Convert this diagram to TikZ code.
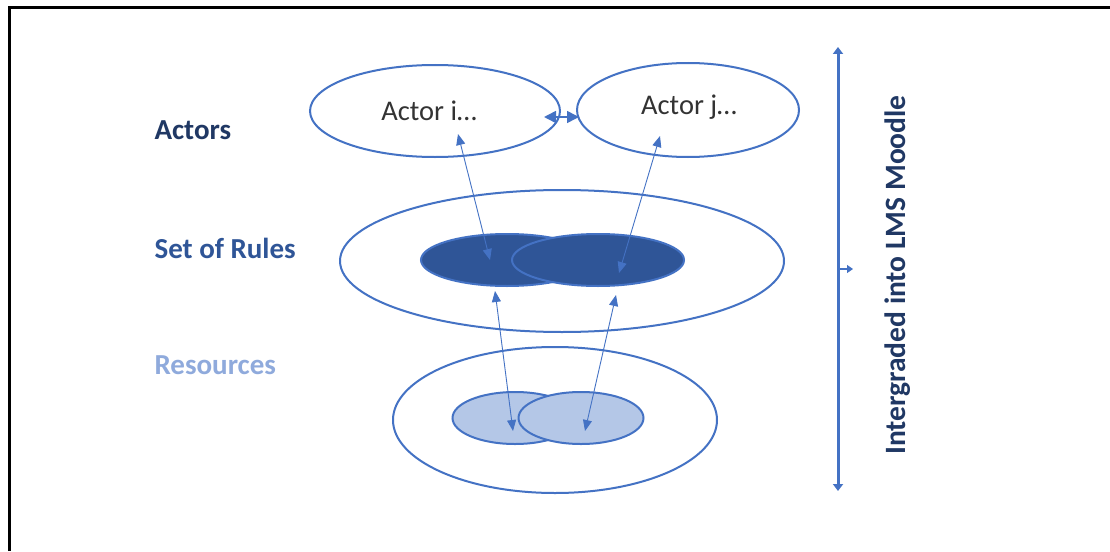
\documentclass[tikz,border=0pt]{standalone}
\usepackage{fontspec}
\setmainfont{Carlito}
\usetikzlibrary{shapes.geometric,arrows.meta}
\definecolor{edgeblue}{HTML}{4472C4}
\definecolor{rulefill}{HTML}{2F5597}
\definecolor{resfill}{HTML}{B4C7E7}
\definecolor{navy}{HTML}{203864}
\definecolor{lightlabel}{HTML}{8FAADC}
\begin{document}
\begin{tikzpicture}[x=1pt,y=-1pt,
  oval/.style={ellipse, draw=edgeblue, line width=2pt, inner sep=0pt},
  link/.style={draw=edgeblue, line width=0.9pt, {Triangle[length=11pt,width=9pt]}-{Triangle[length=11pt,width=9pt]}},
  rowlabel/.style={anchor=west, font=\bfseries\fontsize{29}{34}\selectfont},
  actortext/.style={font=\fontsize{28.5}{33}\selectfont, text=black!80}]
\useasboundingbox (0,0) rectangle (1110,551);
\fill[white] (0,0) rectangle (1110,551);
% frame
\draw[line width=3pt] (9,551) -- (9,8) -- (1110,8);

% row labels
\node[rowlabel, text=navy] (lblact) at (151,130) {Actors};
\node[rowlabel, text=rulefill] (lblrul) at (151,248) {Set of Rules};
\node[rowlabel, text=lightlabel] (lblres) at (151,365) {Resources};

% actors
\node[oval, fill=white, minimum width=250pt, minimum height=92pt] (ai) at (435,111) {};
\node[actortext] at (429,111) {Actor i…};
\node[oval, fill=white, minimum width=222pt, minimum height=94pt] (aj) at (688,110) {};
\node[actortext] at (689,107) {Actor j…};

% set of rules
\node[oval, fill=white, minimum width=444pt, minimum height=142pt] (rules) at (562,261) {};
\node[oval, fill=rulefill, minimum width=172pt, minimum height=52pt] (rl) at (507,260) {};
\node[oval, fill=rulefill, minimum width=172pt, minimum height=52pt] (rr) at (598,260) {};

% resources
\node[oval, fill=white, minimum width=324pt, minimum height=146pt] (res) at (555,420) {};
\node[oval, fill=resfill, minimum width=125pt, minimum height=52pt] (sl) at (515,418) {};
\node[oval, fill=resfill, minimum width=125pt, minimum height=52pt] (sr) at (581,418) {};

% connector end points
\coordinate (ai1) at (458,134);
\coordinate (rl1) at (490,260);
\coordinate (aj1) at (660,136);
\coordinate (rr1) at (619,273);
\coordinate (rl2) at (495,291);
\coordinate (sl1) at (513,431);
\coordinate (rr2) at (616,295);
\coordinate (sr1) at (585,431);
\coordinate (ai2) at (544,117);
\coordinate (aj2) at (579,117);

\draw[link] (ai1) -- (rl1);
\draw[link] (aj1) -- (rr1);
\draw[link] (rl2) -- (sl1);
\draw[link] (rr2) -- (sr1);
\draw[draw=edgeblue, line width=1.5pt, {Triangle[length=12pt,width=12pt]}-{Triangle[length=12pt,width=12pt]}] (ai2) -- (aj2);

% integration bar
\coordinate (bartop) at (838,47);
\coordinate (barbot) at (838,491);
\coordinate (barmid) at (838,269);
\coordinate (stub) at (853,269);
\draw[draw=edgeblue, line width=3pt, {Triangle[length=7pt,width=10pt]}-{Triangle[length=7pt,width=10pt]}] (bartop) -- (barbot);
\draw[draw=edgeblue, line width=1.2pt, -{Triangle[length=6pt,width=8pt]}] (barmid) -- (stub);
\node[rotate=90, font=\bfseries\fontsize{29.5}{34}\selectfont, text=navy] (lms) at (898,275) {Intergraded into LMS Moodle};
\end{tikzpicture}
\end{document}
